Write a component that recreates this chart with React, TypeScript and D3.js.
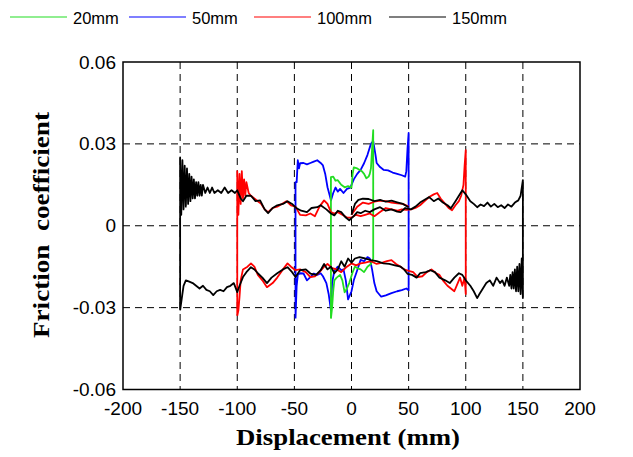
import React from 'react';
import * as d3 from 'd3';

// displacement (mm), friction coefficient
const loop20: [number, number][] = [
  [-18, -0.034], [-18, 0.0178], [-16, 0.018], [-14, 0.0165], [-12, 0.0167], [-9, 0.015], [-6, 0.0141],
  [-3, 0.0145], [0, 0.014], [1, 0.019], [2, 0.0214], [5, 0.021], [9, 0.02], [11, 0.019], [13, 0.0174],
  [15, 0.018], [16, 0.019], [17, 0.021], [18, 0.028], [19, 0.035],
  [19, -0.012], [17, -0.014], [14, -0.015], [11, -0.017], [8, -0.016], [5, -0.0155], [3, -0.015],
  [1, -0.017], [-2, -0.021], [-4, -0.023], [-6, -0.0244], [-8, -0.02], [-10, -0.018], [-13, -0.019],
  [-15, -0.02], [-16, -0.024], [-17, -0.03], [-18, -0.034],
];

const loop50: [number, number][] = [
  [-49, -0.034], [-49, 0.016], [-48, 0.016], [-47, 0.024], [-46, 0.021], [-45, 0.0229], [-42, 0.023],
  [-39, 0.0225], [-36, 0.023], [-33, 0.0235], [-30, 0.024], [-27, 0.023], [-25, 0.0221], [-23, 0.019],
  [-21, 0.0141], [-19, 0.011], [-18, 0.0093], [-16, 0.012], [-14, 0.014], [-12, 0.0125], [-10, 0.0135],
  [-7, 0.012], [-4, 0.0135], [-1, 0.014], [2, 0.017], [5, 0.019], [8, 0.0205], [11, 0.0229], [14, 0.026],
  [17, 0.03], [19, 0.031], [21, 0.026], [22, 0.023], [25, 0.0215], [28, 0.0205], [32, 0.0203],
  [36, 0.0195], [40, 0.019], [44, 0.0185], [47, 0.018], [48, 0.02], [49, 0.028], [50, 0.034],
  [50, -0.0236], [48, -0.023], [44, -0.0236], [40, -0.024], [35, -0.0247], [30, -0.0255], [26, -0.026],
  [22, -0.024], [20, -0.021], [18, -0.016], [16, -0.012], [14, -0.0115], [11, -0.013], [8, -0.0125],
  [5, -0.0163], [2, -0.02], [0, -0.024], [-3, -0.027], [-5, -0.02], [-7, -0.016], [-9, -0.0163],
  [-12, -0.015], [-15, -0.0165], [-17, -0.021], [-18, -0.031], [-20, -0.025], [-22, -0.021],
  [-25, -0.0185], [-27, -0.0174], [-30, -0.018], [-33, -0.0175], [-36, -0.0188], [-39, -0.02],
  [-42, -0.0175], [-45, -0.0174], [-47, -0.018], [-48, -0.022], [-49, -0.034],
];

const loop100: [number, number][] = [
  [-100, -0.033], [-100, 0.02], [-99, 0.004], [-98, 0.019], [-97, 0.008], [-96, 0.02], [-95, 0.01],
  [-94, 0.017], [-93, 0.011], [-92, 0.016], [-90, 0.012], [-88, 0.011], [-85, 0.01], [-82, 0.009],
  [-79, 0.008], [-76, 0.006], [-73, 0.005], [-69, 0.0065], [-65, 0.007], [-61, 0.008], [-57, 0.009],
  [-53, 0.0075], [-49, 0.007], [-45, 0.004], [-40, 0.0038], [-36, 0.0045], [-32, 0.0035], [-28, 0.007],
  [-24, 0.0093], [-21, 0.008], [-18, 0.005], [-15, 0.0045], [-12, 0.005], [-8, 0.004], [-4, 0.003],
  [0, 0.003], [4, 0.004], [8, 0.0035], [12, 0.004], [16, 0.0045], [20, 0.0035], [25, 0.005], [30, 0.0065],
  [35, 0.006], [40, 0.0055], [44, 0.006], [48, 0.0058], [52, 0.006], [56, 0.0065], [60, 0.0075],
  [64, 0.009], [68, 0.0105], [72, 0.0115], [75, 0.012], [78, 0.01], [82, 0.008], [85, 0.0065],
  [88, 0.0057], [91, 0.0075], [94, 0.009], [96, 0.011], [98, 0.015], [99, 0.022], [100, 0.0277],
  [100, -0.025], [99, -0.019], [97, -0.022], [95, -0.019], [93, -0.021], [90, -0.024], [87, -0.023],
  [84, -0.022], [80, -0.02], [77, -0.018], [74, -0.0174], [70, -0.016], [66, -0.017], [62, -0.0185],
  [58, -0.0188], [54, -0.017], [50, -0.0165], [46, -0.016], [43, -0.015], [39, -0.014], [35, -0.0126],
  [31, -0.013], [27, -0.0135], [22, -0.014], [17, -0.013], [12, -0.0135], [8, -0.0138], [4, -0.0145],
  [0, -0.0138], [-4, -0.015], [-9, -0.017], [-13, -0.016], [-17, -0.0155], [-21, -0.014], [-24, -0.015],
  [-28, -0.017], [-32, -0.0185], [-36, -0.0188], [-40, -0.017], [-45, -0.016], [-49, -0.0163],
  [-53, -0.015], [-56, -0.0138], [-60, -0.016], [-65, -0.019], [-69, -0.021], [-74, -0.0225],
  [-78, -0.02], [-82, -0.018], [-85, -0.015], [-88, -0.0138], [-91, -0.015], [-95, -0.016],
  [-97, -0.02], [-98, -0.026], [-99, -0.031], [-100, -0.033],
];

const strand100: [number, number][] = [
  [0, 0.004], [5, 0.007], [10, 0.0085], [15, 0.008], [20, 0.0088], [25, 0.0092], [30, 0.009],
  [35, 0.0085], [40, 0.0082], [45, 0.008], [50, 0.007],
];

const loop150: [number, number][] = [
  [-150, -0.031], [-150, 0.025], [-149, 0.004], [-148, 0.024], [-147, 0.006], [-146, 0.022],
  [-145, 0.007], [-144, 0.021], [-143, 0.008], [-142, 0.019], [-141, 0.009], [-140, 0.018],
  [-139, 0.01], [-138, 0.017], [-137, 0.01], [-136, 0.016], [-135, 0.011], [-134, 0.016],
  [-133, 0.011], [-132, 0.015], [-131, 0.011], [-130, 0.015], [-128, 0.012], [-126, 0.014],
  [-124, 0.012], [-122, 0.014], [-120, 0.012], [-117, 0.013], [-114, 0.012], [-111, 0.014],
  [-108, 0.012], [-105, 0.013], [-102, 0.012], [-100, 0.013], [-97, 0.01], [-95, 0.009], [-92, 0.011],
  [-88, 0.011], [-84, 0.009], [-80, 0.0093], [-76, 0.006], [-73, 0.0046], [-69, 0.0065], [-65, 0.0075],
  [-60, 0.008], [-56, 0.009], [-52, 0.008], [-48, 0.0064], [-44, 0.0055], [-39, 0.005], [-35, 0.0065],
  [-30, 0.0068], [-27, 0.0075], [-22, 0.006], [-18, 0.0045], [-15, 0.0038], [-12, 0.0055], [-9, 0.005],
  [-5, 0.003], [-2, 0.002], [2, 0.0035], [5, 0.005], [8, 0.0046], [12, 0.0055], [16, 0.005], [20, 0.006],
  [25, 0.0068], [30, 0.0055], [35, 0.006], [40, 0.0052], [43, 0.005], [47, 0.0065], [52, 0.006],
  [56, 0.007], [60, 0.0085], [64, 0.0095], [68, 0.0105], [72, 0.009], [76, 0.01], [80, 0.0085],
  [84, 0.0075], [87, 0.0064], [91, 0.009], [94, 0.011], [97, 0.013], [100, 0.0115], [104, 0.009],
  [107, 0.008], [110, 0.0068], [113, 0.0078], [116, 0.0072], [119, 0.0085], [122, 0.007], [125, 0.008],
  [128, 0.0068], [131, 0.0075], [134, 0.0065], [137, 0.0078], [140, 0.007], [143, 0.0085],
  [146, 0.0093], [148, 0.011], [150, 0.0167],
  [150, -0.0265], [149, -0.012], [148, -0.025], [147, -0.014], [146, -0.024], [145, -0.015],
  [144, -0.024], [143, -0.016], [142, -0.023], [141, -0.017], [140, -0.023], [139, -0.018],
  [138, -0.022], [136, -0.019], [134, -0.022], [132, -0.02], [130, -0.021], [127, -0.019],
  [124, -0.022], [121, -0.02], [118, -0.021], [115, -0.023], [112, -0.025], [110, -0.0265],
  [107, -0.024], [104, -0.022], [100, -0.02], [97, -0.018], [94, -0.0174], [90, -0.019], [86, -0.021],
  [82, -0.02], [77, -0.019], [73, -0.017], [69, -0.0163], [65, -0.017], [60, -0.0174], [57, -0.019],
  [53, -0.018], [49, -0.0176], [46, -0.016], [43, -0.015], [38, -0.0145], [33, -0.014], [28, -0.0138],
  [22, -0.013], [17, -0.0126], [12, -0.012], [7, -0.0115], [3, -0.012], [0, -0.0135], [-3, -0.012],
  [-6, -0.015], [-9, -0.013], [-12, -0.016], [-15, -0.0174], [-18, -0.015], [-21, -0.016], [-24, -0.014],
  [-27, -0.0163], [-31, -0.018], [-36, -0.0175], [-40, -0.016], [-45, -0.0163], [-49, -0.0188],
  [-52, -0.017], [-56, -0.0152], [-60, -0.016], [-65, -0.0174], [-70, -0.019], [-74, -0.021],
  [-78, -0.019], [-82, -0.0174], [-85, -0.016], [-88, -0.0152], [-92, -0.017], [-95, -0.0188],
  [-98, -0.022], [-100, -0.0243], [-103, -0.021], [-106, -0.022], [-109, -0.0225], [-112, -0.024],
  [-115, -0.0235], [-118, -0.024], [-121, -0.0254], [-124, -0.024], [-127, -0.0235], [-130, -0.022],
  [-133, -0.023], [-136, -0.022], [-139, -0.021], [-142, -0.0205], [-145, -0.02], [-147, -0.022],
  [-148, -0.025], [-150, -0.031],
];

const strand150: [number, number][] = [
  [0, 0.004], [3, 0.008], [6, 0.0095], [10, 0.0099], [15, 0.0098], [20, 0.009], [25, 0.0095],
  [30, 0.0088], [35, 0.0092], [40, 0.0086], [45, 0.008], [50, 0.0068],
];

const seriesNames = ['20mm', '50mm', '100mm', '150mm'];
const seriesColors = ['#22dd22', '#0000ff', '#ff0000', '#000000'];
const xTicks = [-200, -150, -100, -50, 0, 50, 100, 150, 200];
const yTicks = [-0.06, -0.03, 0, 0.03, 0.06];
const yTickLabels = ['-0.06', '-0.03', '0', '0.03', '0.06'];

const W = 633;
const H = 457;
const plot = { left: 123, right: 580, top: 62, bottom: 389.5 };

export default function App() {
  const x = d3.scaleLinear().domain([-200, 200]).range([plot.left, plot.right]);
  const y = d3.scaleLinear().domain([-0.06, 0.06]).range([plot.bottom, plot.top]);
  const line = d3.line<[number, number]>().x(d => x(d[0])).y(d => y(d[1]));

  // draw order: 50, 20, 100, 150 (black on top)
  const paths = [
    { data: loop50, color: seriesColors[1] },
    { data: loop20, color: seriesColors[0] },
    { data: loop100, color: seriesColors[2] },
    { data: strand100, color: seriesColors[2] },
    { data: loop150, color: seriesColors[3] },
    { data: strand150, color: seriesColors[3] },
  ];

  const legendX = [10, 129, 254, 389];

  return (
    <svg width={W} height={H} style={{ position: 'absolute', left: 0, top: 0, background: '#fff' }}
      fontFamily="'Liberation Sans', Arial, sans-serif">
      {/* legend */}
      {seriesNames.map((name, i) => (
        <g key={name}>
          <line x1={legendX[i]} x2={legendX[i] + 57} y1={17} y2={17} stroke={seriesColors[i]} strokeWidth={1.2} />
          <text x={legendX[i] + 63} y={24} fontSize={16.5} fill="#000">{name}</text>
        </g>
      ))}

      {/* grid */}
      {xTicks.filter(t => t > -200 && t < 200).map(t => (
        <line key={'gx' + t} x1={x(t)} x2={x(t)} y1={plot.top} y2={plot.bottom}
          stroke="#000" strokeWidth={1} strokeDasharray="7,5" />
      ))}
      {yTicks.filter(t => t > -0.06 && t < 0.06).map(t => (
        <line key={'gy' + t} x1={plot.left} x2={plot.right} y1={y(t)} y2={y(t)}
          stroke="#000" strokeWidth={1} strokeDasharray="7,5" />
      ))}

      {/* data */}
      {paths.map((p, i) => (
        <path key={i} d={line(p.data) ?? ''} fill="none" stroke={p.color} strokeWidth={1.8}
          strokeLinejoin="round" />
      ))}

      {/* frame */}
      <rect x={plot.left} y={plot.top} width={plot.right - plot.left} height={plot.bottom - plot.top}
        fill="none" stroke="#000" strokeWidth={1.5} />

      {/* tick labels */}
      {xTicks.map(t => (
        <text key={'xl' + t} x={x(t)} y={415} textAnchor="middle" fontSize={19} fill="#000">{t}</text>
      ))}
      {yTicks.map((t, i) => (
        <text key={'yl' + t} x={116} y={y(t) + 6.5} textAnchor="end" fontSize={19} fill="#000">{yTickLabels[i]}</text>
      ))}

      {/* axis titles */}
      <text x={348} y={445} textAnchor="middle" fontSize={24} fontWeight="bold"
        fontFamily="'Liberation Serif', 'Times New Roman', serif" textLength={224} lengthAdjust="spacingAndGlyphs">
        Displacement (mm)
      </text>
      <text transform="translate(49,225) rotate(-90)" textAnchor="middle" fontSize={24} fontWeight="bold"
        fontFamily="'Liberation Serif', 'Times New Roman', serif" textLength={226} lengthAdjust="spacingAndGlyphs"
        style={{ whiteSpace: 'pre' }}>
        {'Friction  coefficient'}
      </text>
    </svg>
  );
}
